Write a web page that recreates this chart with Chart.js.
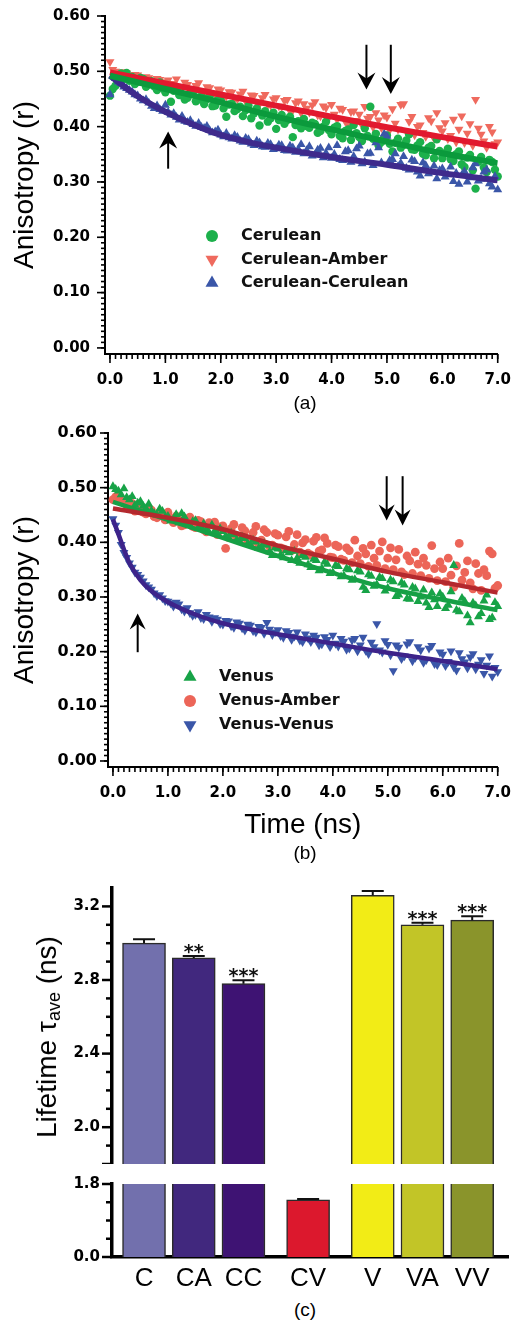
<!DOCTYPE html>
<html>
<head>
<meta charset="utf-8">
<script src="https://cdn.jsdelivr.net/npm/chart.js@4.4.1/dist/chart.umd.min.js"></script>
<style>
  body { margin: 0; background: #fff; }
  #fig { position: relative; width: 519px; height: 1323px; font-family: "Liberation Sans", Arial, sans-serif; color: #000; }
  .box { position: absolute; left: 0; width: 519px; }
  .cap { position: absolute; font-size: 19px; transform: translate(-50%, -50%); }
  .ytitle { position: absolute; font-size: 28px; white-space: nowrap; transform: translate(-50%, -50%) rotate(-90deg); }
  .ytitle sub { font-size: 18px; vertical-align: -4px; }
</style>
</head>
<body>
<div id="fig">
  <div class="box" style="top:0;height:394px"><canvas id="chartA"></canvas></div>
  <div class="cap" style="left:305px;top:403px">(a)</div>
  <div class="box" style="top:420px;height:426px"><canvas id="chartB"></canvas></div>
  <div class="cap" style="left:305px;top:853px">(b)</div>
  <div class="box" style="top:870px;height:294px"><canvas id="chartC1"></canvas></div>
  <div class="box" style="top:1170px;height:127px"><canvas id="chartC2"></canvas></div>
  <div class="ytitle" style="left:48px;top:1037px">Lifetime &tau;<sub>ave</sub> (ns)</div>
  <div class="cap" style="left:305px;top:1310px">(c)</div>
</div>
<script>
// ---- data: time axis shared by panels (a) and (b) ----
const timeNs = [0,0.05,0.1,0.15,0.2,0.25,0.3,0.35,0.4,0.45,0.5,0.55,0.6,0.65,0.7,0.75,0.8,0.85,0.9,0.95,
  1,1.05,1.1,1.15,1.2,1.25,1.3,1.35,1.4,1.45,1.5,1.55,1.6,1.65,1.7,1.75,1.8,1.85,1.9,1.95,
  2,2.05,2.1,2.15,2.2,2.25,2.3,2.35,2.4,2.45,2.5,2.55,2.6,2.65,2.7,2.75,2.8,2.85,2.9,2.95,
  3,3.05,3.1,3.15,3.2,3.25,3.3,3.35,3.4,3.45,3.5,3.55,3.6,3.65,3.7,3.75,3.8,3.85,3.9,3.95,
  4,4.05,4.1,4.15,4.2,4.25,4.3,4.35,4.4,4.45,4.5,4.55,4.6,4.65,4.7,4.75,4.8,4.85,4.9,4.95,
  5,5.05,5.1,5.15,5.2,5.25,5.3,5.35,5.4,5.45,5.5,5.55,5.6,5.65,5.7,5.75,5.8,5.85,5.9,5.95,
  6,6.05,6.1,6.15,6.2,6.25,6.3,6.35,6.4,6.45,6.5,6.55,6.6,6.65,6.7,6.75,6.8,6.85,6.9,6.95,7];

// panel (a) anisotropy
const ceruleanA = [0.456,0.468,0.474,0.489,0.496,0.486,0.497,0.483,0.490,0.477,0.481,0.488,0.486,0.472,0.476,0.482,0.473,0.466,0.480,0.470,
  0.462,0.471,0.445,0.465,0.468,0.457,0.459,0.449,0.452,0.460,0.463,0.446,0.449,0.455,0.441,0.450,0.456,0.437,0.438,0.448,
  0.447,0.433,0.418,0.440,0.441,0.428,0.432,0.436,0.419,0.430,0.438,0.415,0.424,0.433,0.402,0.420,0.428,0.409,0.415,0.425,
  0.396,0.412,0.421,0.405,0.412,0.418,0.381,0.403,0.410,0.397,0.414,0.401,0.398,0.407,0.405,0.389,0.392,0.400,0.409,0.394,
  0.386,0.398,0.401,0.383,0.379,0.392,0.395,0.376,0.403,0.388,0.381,0.374,0.397,0.383,0.436,0.378,0.387,0.366,0.372,0.380,
  0.384,0.369,0.355,0.371,0.378,0.362,0.367,0.375,0.386,0.359,0.358,0.366,0.372,0.351,0.348,0.362,0.365,0.343,0.377,0.356,
  0.343,0.352,0.360,0.341,0.338,0.350,0.355,0.332,0.327,0.344,0.349,0.321,0.288,0.337,0.345,0.326,0.318,0.340,0.336,0.322,0.310];
const cerAmberA = [0.517,0.503,0.500,0.494,0.492,0.499,0.497,0.489,0.486,0.494,0.493,0.484,0.482,0.490,0.488,0.480,0.479,0.487,0.485,0.476,
  0.481,0.484,0.474,0.478,0.486,0.471,0.470,0.480,0.476,0.468,0.466,0.474,0.479,0.464,0.463,0.472,0.470,0.460,0.458,0.468,
  0.466,0.453,0.455,0.463,0.462,0.451,0.450,0.459,0.464,0.446,0.447,0.457,0.456,0.443,0.441,0.452,0.458,0.440,0.439,0.450,
  0.452,0.437,0.436,0.447,0.449,0.428,0.430,0.443,0.446,0.425,0.441,0.433,0.426,0.439,0.445,0.421,0.419,0.437,0.434,0.416,
  0.440,0.422,0.413,0.433,0.431,0.409,0.404,0.427,0.428,0.411,0.422,0.403,0.436,0.415,0.418,0.399,0.425,0.412,0.398,0.421,
  0.417,0.394,0.432,0.406,0.395,0.440,0.441,0.391,0.409,0.418,0.385,0.400,0.403,0.389,0.382,0.416,0.410,0.379,0.425,0.398,
  0.392,0.407,0.378,0.384,0.413,0.372,0.395,0.419,0.371,0.388,0.405,0.366,0.449,0.397,0.386,0.374,0.362,0.400,0.390,0.369,0.372];
const cerCerA = [0.458,0.492,0.487,0.481,0.478,0.472,0.469,0.466,0.463,0.458,0.456,0.450,0.447,0.449,0.443,0.437,0.433,0.438,0.431,0.428,
  0.439,0.426,0.421,0.424,0.417,0.412,0.419,0.410,0.408,0.411,0.404,0.401,0.406,0.399,0.397,0.401,0.393,0.389,0.391,0.394,
  0.385,0.382,0.388,0.380,0.378,0.384,0.381,0.374,0.372,0.379,0.377,0.369,0.366,0.374,0.371,0.364,0.363,0.370,0.368,0.359,
  0.360,0.367,0.366,0.357,0.356,0.365,0.362,0.354,0.359,0.368,0.351,0.357,0.364,0.347,0.349,0.358,0.361,0.344,0.352,0.362,
  0.343,0.350,0.366,0.341,0.339,0.355,0.357,0.336,0.346,0.360,0.365,0.333,0.336,0.351,0.352,0.330,0.371,0.362,0.335,0.387,
  0.383,0.339,0.341,0.351,0.328,0.334,0.346,0.325,0.322,0.340,0.337,0.318,0.311,0.335,0.330,0.315,0.318,0.329,0.306,0.321,
  0.324,0.309,0.313,0.327,0.301,0.316,0.296,0.312,0.319,0.300,0.308,0.326,0.333,0.302,0.305,0.318,0.322,0.297,0.291,0.310,0.286];
const fitTimeA = [0, 1, 2, 3, 4, 5, 6, 7];
const fitCeruleanA = [0.492, 0.468, 0.444, 0.418, 0.395, 0.373, 0.352, 0.334];
const fitCerAmberA = [0.498, 0.478, 0.458, 0.438, 0.418, 0.399, 0.381, 0.364];
const fitTimeCC = [0, 0.5, 1, 1.5, 2, 2.5, 3, 4, 5, 6, 7];
const fitCerCerA = [0.492, 0.455, 0.427, 0.404, 0.385, 0.372, 0.362, 0.345, 0.331, 0.316, 0.303];

// panel (b) anisotropy
const venusB = [0.502,0.497,0.494,0.487,0.498,0.482,0.478,0.484,0.468,0.472,0.475,0.466,0.462,0.470,0.458,0.453,0.450,0.461,0.457,0.446,
  0.448,0.439,0.442,0.451,0.436,0.453,0.447,0.433,0.431,0.438,0.440,0.426,0.428,0.434,0.424,0.418,0.432,0.421,0.416,0.425,
  0.420,0.411,0.409,0.417,0.414,0.404,0.402,0.410,0.407,0.397,0.395,0.404,0.401,0.389,0.391,0.398,0.395,0.383,0.376,0.390,
  0.388,0.377,0.372,0.385,0.381,0.367,0.384,0.371,0.362,0.376,0.373,0.359,0.354,0.369,0.367,0.348,0.352,0.364,0.360,0.343,
  0.345,0.358,0.356,0.337,0.339,0.352,0.350,0.331,0.332,0.348,0.346,0.318,0.312,0.341,0.338,0.320,0.323,0.336,0.334,0.311,
  0.316,0.331,0.328,0.301,0.304,0.326,0.322,0.297,0.296,0.318,0.315,0.292,0.300,0.313,0.289,0.281,0.308,0.295,0.283,0.306,
  0.300,0.279,0.285,0.310,0.358,0.276,0.273,0.298,0.292,0.266,0.253,0.289,0.284,0.264,0.270,0.293,0.304,0.259,0.262,0.290,0.283];
const venusAmberB = [0.478,0.483,0.486,0.476,0.472,0.468,0.463,0.471,0.457,0.461,0.466,0.455,0.452,0.462,0.459,0.447,0.445,0.455,0.449,0.441,
  0.455,0.444,0.436,0.448,0.441,0.430,0.432,0.443,0.446,0.429,0.427,0.440,0.438,0.423,0.419,0.436,0.432,0.437,0.414,0.428,
  0.430,0.389,0.409,0.425,0.433,0.411,0.405,0.427,0.421,0.400,0.398,0.418,0.429,0.396,0.404,0.423,0.418,0.392,0.395,0.416,
  0.413,0.390,0.388,0.410,0.420,0.385,0.396,0.414,0.382,0.399,0.405,0.380,0.377,0.402,0.409,0.384,0.386,0.408,0.398,0.373,
  0.372,0.395,0.392,0.369,0.367,0.390,0.385,0.363,0.404,0.375,0.361,0.389,0.379,0.356,0.395,0.371,0.358,0.384,0.401,0.352,
  0.371,0.390,0.350,0.368,0.387,0.346,0.341,0.375,0.366,0.343,0.382,0.360,0.339,0.371,0.358,0.334,0.394,0.352,0.330,0.364,
  0.352,0.328,0.371,0.340,0.318,0.357,0.398,0.331,0.345,0.366,0.326,0.315,0.361,0.343,0.312,0.350,0.339,0.384,0.379,0.316,0.321];
const venusVenusB = [0.443,0.431,0.418,0.396,0.381,0.372,0.362,0.354,0.345,0.341,0.336,0.329,0.322,0.318,0.314,0.307,0.302,0.304,0.298,0.293,
  0.292,0.289,0.283,0.290,0.287,0.278,0.274,0.280,0.271,0.266,0.268,0.273,0.262,0.260,0.268,0.263,0.255,0.262,0.259,0.251,
  0.250,0.257,0.256,0.247,0.244,0.254,0.252,0.243,0.239,0.250,0.248,0.238,0.236,0.246,0.244,0.233,0.253,0.241,0.231,0.236,
  0.240,0.229,0.226,0.238,0.235,0.222,0.228,0.236,0.221,0.218,0.232,0.225,0.218,0.230,0.226,0.212,0.214,0.227,0.222,0.209,
  0.230,0.215,0.210,0.224,0.219,0.204,0.206,0.221,0.224,0.201,0.212,0.226,0.202,0.196,0.217,0.209,0.251,0.203,0.199,0.220,
  0.213,0.194,0.165,0.212,0.208,0.187,0.192,0.214,0.218,0.183,0.189,0.209,0.203,0.180,0.185,0.206,0.211,0.178,0.176,0.199,
  0.195,0.174,0.182,0.201,0.172,0.166,0.198,0.187,0.181,0.170,0.190,0.196,0.168,0.177,0.185,0.160,0.175,0.192,0.155,0.171,0.163];
const fitTimeB = [0, 1, 2, 3, 4, 5, 6, 7];
const fitVenusB = [0.474, 0.441, 0.408, 0.375, 0.344, 0.316, 0.295, 0.276];
const fitVenusAmberB = [0.462, 0.445, 0.424, 0.394, 0.370, 0.346, 0.327, 0.308];
const fitTimeVV = [0, 0.1, 0.2, 0.3, 0.5, 0.7, 1, 1.5, 2, 2.5, 3, 4, 5, 6, 7];
const fitVenusVenusB = [0.442, 0.415, 0.387, 0.362, 0.331, 0.311, 0.291, 0.268, 0.252, 0.241, 0.232, 0.215, 0.198, 0.183, 0.168];

const yTicksAniso = [0, 0.1, 0.2, 0.3, 0.4, 0.5, 0.6];
const xTicksTime = [0, 1, 2, 3, 4, 5, 6, 7];

// arrows drawn on panels (a) and (b), in data units
const arrowsA = [{ t: 1.05, from: 0.324, to: 0.391 }, { t: 4.63, from: 0.548, to: 0.467 }, { t: 5.07, from: 0.548, to: 0.459 }];
const arrowsB = [{ t: 0.45, from: 0.199, to: 0.270 }, { t: 4.98, from: 0.521, to: 0.440 }, { t: 5.27, from: 0.521, to: 0.431 }];

// panel (c) lifetimes
const lifetimeLabels = ['C', 'CA', 'CC', 'CV', 'V', 'VA', 'VV'];
const lifetimeMean = [3.00, 2.92, 2.78, 1.41, 3.26, 3.10, 3.125];
const lifetimeErr = [0.022, 0.011, 0.018, 0.02, 0.024, 0.011, 0.022];
const significance = ['', '**', '***', '', '', '***', '***'];

// ---- layout / style ----
const barSlots = [1, 2, 3, 4.3, 5.6, 6.6, 7.6];
const barColors = ['#7270ad', '#41287e', '#3e1373', '#dc182d', '#f2ec16', '#c2c527', '#8a942b'];

Chart.defaults.font.family = '"DejaVu Sans", sans-serif';
Chart.defaults.color = '#000';
Chart.defaults.animation = false;
Chart.defaults.events = [];
Chart.defaults.plugins.legend.display = false;
Chart.defaults.plugins.tooltip.enabled = false;

const points = (xs, ys) => xs.map((x, i) => ({ x: x, y: ys[i] }));
function steps(from, to, step) {
  const out = [];
  for (let v = from; v <= to + 1e-9; v += step) out.push(Math.round(v * 1000) / 1000);
  return out;
}

// major/minor tick marks drawn against the library's scales
const tickMarks = {
  id: 'tickMarks',
  afterDraw(chart, args, opts) {
    const ctx = chart.ctx, area = chart.chartArea;
    ctx.save();
    ctx.strokeStyle = '#000';
    ['x', 'y'].forEach(axis => {
      const o = opts[axis];
      if (!o) return;
      const sc = chart.scales[axis];
      ctx.lineWidth = o.width;
      const draw = (vals, len) => vals.forEach(v => {
        const p = sc.getPixelForValue(v);
        ctx.beginPath();
        if (axis === 'y') { ctx.moveTo(area.left - len, p); ctx.lineTo(area.left, p); }
        else { ctx.moveTo(p, area.bottom); ctx.lineTo(p, area.bottom + len); }
        ctx.stroke();
      });
      draw(o.minor || [], o.minorLen);
      draw(o.major || [], o.majorLen);
    });
    ctx.restore();
  }
};

const arrowMarks = {
  id: 'arrowMarks',
  afterDatasetsDraw(chart, args, opts) {
    if (!opts.items) return;
    const ctx = chart.ctx, xs = chart.scales.x, ys = chart.scales.y;
    ctx.save();
    ctx.fillStyle = ctx.strokeStyle = '#000';
    ctx.lineWidth = 2;
    opts.items.forEach(a => {
      const x = xs.getPixelForValue(a.t);
      const y0 = ys.getPixelForValue(a.from), y1 = ys.getPixelForValue(a.to);
      const dir = Math.sign(y1 - y0), hl = opts.headLen, hw = opts.headWidth / 2;
      ctx.beginPath(); ctx.moveTo(x, y0); ctx.lineTo(x, y1 - dir * hl * 0.6); ctx.stroke();
      ctx.beginPath();
      ctx.moveTo(x, y1);
      ctx.lineTo(x - hw, y1 - dir * hl);
      ctx.lineTo(x, y1 - dir * hl * 0.65);
      ctx.lineTo(x + hw, y1 - dir * hl);
      ctx.closePath(); ctx.fill();
    });
    ctx.restore();
  }
};

const pointLegend = {
  id: 'pointLegend',
  afterDraw(chart, args, opts) {
    if (!opts.items) return;
    const ctx = chart.ctx;
    ctx.save();
    ctx.font = opts.font;
    ctx.textBaseline = 'middle';
    opts.items.forEach((idx, i) => {
      const ds = chart.data.datasets[idx];
      const y = opts.y + i * opts.rowGap;
      ctx.fillStyle = ds.pointBackgroundColor;
      Chart.helpers.drawPoint(ctx, {
        pointStyle: ds.pointStyle, rotation: ds.pointRotation || 0,
        radius: ds.pointStyle === 'circle' ? opts.circleR : opts.triR, borderWidth: 0
      }, opts.markerX, y);
      ctx.fillStyle = '#111';
      ctx.fillText(ds.label, opts.textX, y);
    });
    ctx.restore();
  }
};

const errorBars = {
  id: 'errorBars',
  afterDatasetsDraw(chart) {
    const ctx = chart.ctx, xs = chart.scales.x, ys = chart.scales.y;
    ctx.save();
    ctx.strokeStyle = ctx.fillStyle = '#111';
    ctx.lineWidth = 2;
    ctx.font = 'bold 19px "DejaVu Sans"';
    ctx.textAlign = 'center';
    ctx.textBaseline = 'alphabetic';
    barSlots.forEach((s, i) => {
      const m = lifetimeMean[i], e = lifetimeErr[i];
      if (m < ys.min || m + e > ys.max) return;
      const x = xs.getPixelForValue(s), y0 = ys.getPixelForValue(m), y1 = ys.getPixelForValue(m + e);
      ctx.beginPath();
      ctx.moveTo(x, y0); ctx.lineTo(x, y1);
      ctx.moveTo(x - 11, y1); ctx.lineTo(x + 11, y1);
      ctx.stroke();
      if (significance[i]) ctx.fillText(significance[i], x, y1 + 2);
    });
    ctx.restore();
  }
};

Chart.register(tickMarks, arrowMarks, pointLegend, errorBars);

function scatterSet(label, vals, style, color, rot, r, order) {
  return {
    label: label, data: points(timeNs, vals), pointStyle: style, pointRotation: rot,
    pointRadius: r, pointBorderWidth: 0, pointBackgroundColor: color, backgroundColor: color,
    clip: false, order: order
  };
}
function fitSet(xs, ys, color, w) {
  return {
    label: 'fit', data: points(xs, ys), showLine: true, pointRadius: 0, borderColor: color,
    borderWidth: w, cubicInterpolationMode: 'monotone', fill: false, order: 0
  };
}
function anisoOptions(p) {
  return {
    responsive: true, maintainAspectRatio: false,
    layout: { padding: p.padding },
    scales: {
      x: {
        type: 'linear', min: -0.09, max: 7,
        afterFit: s => { s.height = p.xHeight; },
        afterBuildTicks: s => { s.ticks = xTicksTime.map(v => ({ value: v })); },
        grid: { display: false, drawTicks: true, tickLength: 9 },
        border: { display: true, color: '#000', width: 2 },
        ticks: { autoSkip: false, maxRotation: 0, padding: p.xPad, font: { size: 15, weight: 'bold' }, callback: v => v.toFixed(1) },
        title: p.xTitle
      },
      y: {
        type: 'linear', min: -0.011, max: 0.6,
        afterFit: s => { s.width = p.yWidth; },
        afterBuildTicks: s => { s.ticks = yTicksAniso.map(v => ({ value: v })); },
        grid: { display: false, drawTicks: true, tickLength: 8 },
        border: { display: true, color: '#000', width: 2 },
        ticks: { autoSkip: false, padding: p.yPad, font: { size: p.yFont, weight: 'bold' }, callback: v => v.toFixed(2) },
        title: { display: true, text: 'Anisotropy (r)', color: '#000', padding: { top: 8, bottom: 4 },
          font: { family: '"Liberation Sans", Arial, sans-serif', size: 28, weight: 'normal' } }
      }
    },
    plugins: {
      tickMarks: {
        x: { major: xTicksTime, minor: steps(0, 7, 0.1), majorLen: 9, minorLen: 5, width: 1.6 },
        y: { major: yTicksAniso, minor: steps(0, 0.6, 0.01), majorLen: 8, minorLen: 4, width: 1.6 }
      },
      arrowMarks: p.arrows,
      pointLegend: p.legend
    }
  };
}

// ---- panel (a) ----
new Chart(document.getElementById('chartA'), {
  type: 'scatter',
  data: {
    datasets: [
      scatterSet('Cerulean', ceruleanA, 'circle', '#1cb04b', 0, 4.2, 2),
      scatterSet('Cerulean-Amber', cerAmberA, 'triangle', '#ef6a5e', 180, 5.2, 3),
      scatterSet('Cerulean-Cerulean', cerCerA, 'triangle', '#3a56a8', 0, 5.2, 1),
      fitSet(fitTimeA, fitCeruleanA, '#0b9a3c', 6),
      fitSet(fitTimeCC, fitCerCerA, '#3e2a8c', 6),
      fitSet(fitTimeA, fitCerAmberA, '#e1192e', 6)
    ]
  },
  options: anisoOptions({
    padding: { top: 16, right: 14, left: 0, bottom: 0 }, xHeight: 40, yWidth: 105, xPad: 8, yPad: 7, yFont: 15,
    xTitle: { display: false },
    arrows: { items: arrowsA, headLen: 17, headWidth: 18 },
    legend: { items: [0, 1, 2], markerX: 212, textX: 241, y: 236, rowGap: 23.5, circleR: 6, triR: 7.5,
      font: 'bold 16px "DejaVu Sans"' }
  })
});

// ---- panel (b) ----
new Chart(document.getElementById('chartB'), {
  type: 'scatter',
  data: {
    datasets: [
      scatterSet('Venus', venusB, 'triangle', '#17a347', 0, 5.2, 1),
      scatterSet('Venus-Amber', venusAmberB, 'circle', '#ec6558', 0, 4.4, 2),
      scatterSet('Venus-Venus', venusVenusB, 'triangle', '#3a56a8', 180, 5.2, 3),
      fitSet(fitTimeB, fitVenusAmberB, '#b4292e', 4.5),
      fitSet(fitTimeB, fitVenusB, '#16a045', 4.5),
      fitSet(fitTimeVV, fitVenusVenusB, '#3d238a', 4.5)
    ]
  },
  options: anisoOptions({
    padding: { top: 13, right: 17, left: 0, bottom: 0 }, xHeight: 79, yWidth: 108, xPad: 8, yPad: 3, yFont: 16,
    xTitle: { display: true, text: 'Time (ns)', color: '#000', padding: { top: 4, bottom: 4 },
      font: { family: '"Liberation Sans", Arial, sans-serif', size: 28, weight: 'normal' } },
    arrows: { items: arrowsB, headLen: 16, headWidth: 16 },
    legend: { items: [0, 1, 2], markerX: 190, textX: 219, y: 257, rowGap: 24, circleR: 6, triR: 7.5,
      font: 'bold 16px "DejaVu Sans"' }
  })
});

// ---- panel (c): broken axis drawn as two stacked charts ----
function lifetimeOptions(p) {
  return {
    responsive: true, maintainAspectRatio: false,
    layout: { padding: p.padding },
    scales: {
      x: {
        type: 'linear', min: 0.356, max: 8.32, offset: false, display: p.showX,
        afterFit: s => { if (p.showX) s.height = 40; },
        afterBuildTicks: s => { s.ticks = barSlots.map(v => ({ value: v })); },
        grid: { display: false, drawTicks: false },
        border: { display: true, color: '#000', width: 3.5 },
        ticks: { autoSkip: false, maxRotation: 0, padding: 6,
          font: { family: '"Liberation Sans", Arial, sans-serif', size: 26, weight: 'normal' },
          callback: v => lifetimeLabels[barSlots.indexOf(v)] }
      },
      y: {
        type: 'linear', min: p.min, max: p.max,
        // fixed width, and no extra room for half-labels at the ends of the segment
        afterFit: s => { s.width = 112; s.paddingTop = 0; s.paddingBottom = 0; },
        afterBuildTicks: s => { s.ticks = p.labelled.map(v => ({ value: v })); },
        grid: { display: false, drawTicks: true, tickLength: 10 },
        border: { display: true, color: '#000', width: 3.5 },
        ticks: { autoSkip: false, padding: 2, font: { size: 15, weight: 'bold' }, callback: v => v.toFixed(1) }
      }
    },
    plugins: {
      tickMarks: { y: { major: p.major, minor: p.minor, majorLen: 10, minorLen: 6, width: 2.5 } }
    }
  };
}
function lifetimeData() {
  return {
    datasets: [{
      data: points(barSlots, lifetimeMean), backgroundColor: barColors, borderColor: '#2b2b2b',
      borderWidth: 1.5, barThickness: 43, clip: 0
    }]
  };
}

new Chart(document.getElementById('chartC1'), {
  type: 'bar',
  data: lifetimeData(),
  options: lifetimeOptions({
    padding: { top: 18, right: 11, left: 0, bottom: 0 }, showX: false, min: 1.8, max: 3.3,
    labelled: [2.0, 2.4, 2.8, 3.2], major: [1.8, 2.0, 2.4, 2.8, 3.2],
    minor: [1.9, 2.1, 2.2, 2.3, 2.5, 2.6, 2.7, 2.9, 3.0, 3.1]
  })
});
new Chart(document.getElementById('chartC2'), {
  type: 'bar',
  data: lifetimeData(),
  options: lifetimeOptions({
    padding: { top: 14, right: 11, left: 0, bottom: 0 }, showX: true, min: 0, max: 1.8,
    labelled: [0, 1.8], major: [0, 1.8], minor: [0.45, 0.9, 1.35]
  })
});
</script>
</body>
</html>
